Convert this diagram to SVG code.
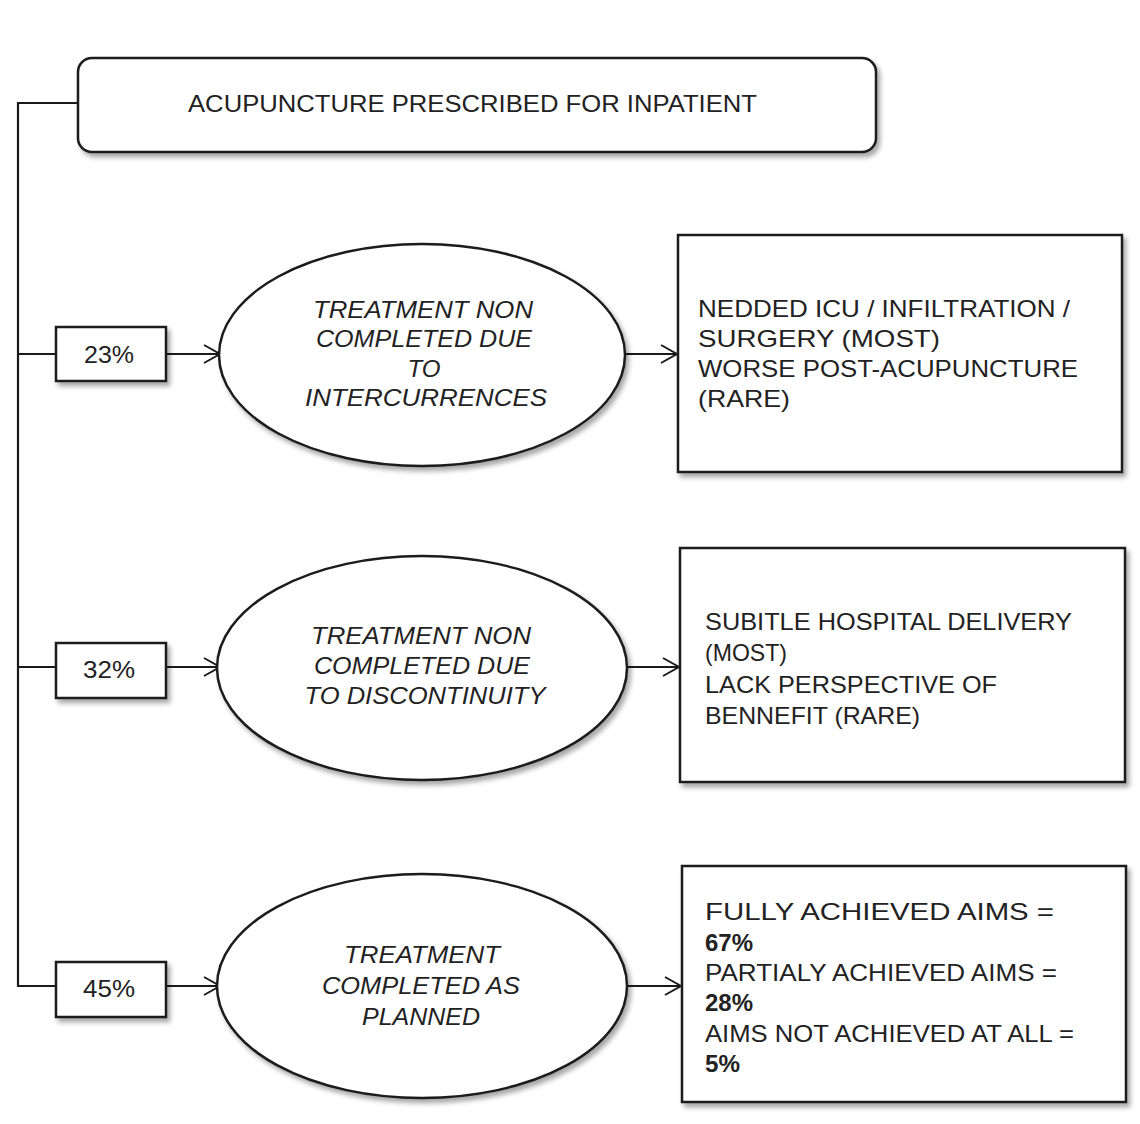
<svg xmlns="http://www.w3.org/2000/svg" width="1140" height="1124" viewBox="0 0 1140 1124">
<defs>
<filter id="sh" x="-10%" y="-10%" width="125%" height="130%">
<feDropShadow dx="3" dy="4" stdDeviation="2.5" flood-color="#000" flood-opacity="0.35"/>
</filter>
<marker id="arr" markerWidth="22" markerHeight="22" refX="18" refY="11" orient="auto" markerUnits="userSpaceOnUse">
<path d="M2,2 L18,11 L2,20" fill="none" stroke="#1a1a1a" stroke-width="2"/>
</marker>
<style>
.shape{fill:#fff;stroke:#1a1a1a;stroke-width:2.5;filter:url(#sh)}
.ln{fill:none;stroke:#1a1a1a;stroke-width:2.2}
.t{font-family:"Liberation Sans",Arial,sans-serif;font-size:24px;fill:#222}
.i{font-style:italic}
.c{text-anchor:middle}
.b{font-weight:bold}
</style>
</defs>
<rect width="1140" height="1124" fill="#fff"/>

<g id="connectors">
<path class="ln" d="M78,103 H18 V986 H56"/>
<path class="ln" d="M18,354 H56"/>
<path class="ln" d="M18,667 H56"/>
<path class="ln" d="M166,354 H220" marker-end="url(#arr)"/>
<path class="ln" d="M166,667 H220" marker-end="url(#arr)"/>
<path class="ln" d="M166,986 H220" marker-end="url(#arr)"/>
<path class="ln" d="M625,354 H677" marker-end="url(#arr)"/>
<path class="ln" d="M628,667 H679" marker-end="url(#arr)"/>
<path class="ln" d="M627,986 H681" marker-end="url(#arr)"/>
</g>

<g id="start">
<rect class="shape" x="78" y="58" width="798" height="94" rx="14"/>
<text class="t" x="188" y="112" textLength="569" lengthAdjust="spacingAndGlyphs">ACUPUNCTURE PRESCRIBED FOR INPATIENT</text>
</g>

<g id="p23">
<rect class="shape" x="56" y="327" width="110" height="54"/>
<text class="t c" x="109" y="363" textLength="50" lengthAdjust="spacingAndGlyphs">23%</text>
</g>
<g id="e1">
<ellipse class="shape" cx="422" cy="355" rx="203" ry="111"/>
<text class="t i c" x="423" y="318" textLength="220" lengthAdjust="spacingAndGlyphs">TREATMENT NON</text>
<text class="t i c" x="424" y="347" textLength="216" lengthAdjust="spacingAndGlyphs">COMPLETED DUE</text>
<text class="t i c" x="424" y="377" textLength="33" lengthAdjust="spacingAndGlyphs">TO</text>
<text class="t i c" x="426" y="406" textLength="242" lengthAdjust="spacingAndGlyphs">INTERCURRENCES</text>
</g>
<g id="r1">
<rect class="shape" x="678" y="235" width="444" height="237"/>
<text class="t" x="698" y="317" textLength="372" lengthAdjust="spacingAndGlyphs">NEDDED ICU / INFILTRATION /</text>
<text class="t" x="698" y="347" textLength="242" lengthAdjust="spacingAndGlyphs">SURGERY (MOST)</text>
<text class="t" x="698" y="377" textLength="380" lengthAdjust="spacingAndGlyphs">WORSE POST-ACUPUNCTURE</text>
<text class="t" x="698" y="407" textLength="92" lengthAdjust="spacingAndGlyphs">(RARE)</text>
</g>

<g id="p32">
<rect class="shape" x="56" y="643" width="110" height="55"/>
<text class="t c" x="109" y="678" textLength="52" lengthAdjust="spacingAndGlyphs">32%</text>
</g>
<g id="e2">
<ellipse class="shape" cx="422" cy="668" rx="205" ry="112"/>
<text class="t i c" x="421" y="644" textLength="220" lengthAdjust="spacingAndGlyphs">TREATMENT NON</text>
<text class="t i c" x="422" y="674" textLength="216" lengthAdjust="spacingAndGlyphs">COMPLETED DUE</text>
<text class="t i c" x="425" y="704" textLength="241" lengthAdjust="spacingAndGlyphs">TO DISCONTINUITY</text>
</g>
<g id="r2">
<rect class="shape" x="680" y="548" width="445" height="234"/>
<text class="t" x="705" y="630" textLength="367" lengthAdjust="spacingAndGlyphs">SUBITLE HOSPITAL DELIVERY</text>
<text class="t" x="705" y="661" textLength="82" lengthAdjust="spacingAndGlyphs">(MOST)</text>
<text class="t" x="705" y="693" textLength="292" lengthAdjust="spacingAndGlyphs">LACK PERSPECTIVE OF</text>
<text class="t" x="705" y="724" textLength="215" lengthAdjust="spacingAndGlyphs">BENNEFIT (RARE)</text>
</g>

<g id="p45">
<rect class="shape" x="56" y="962" width="110" height="55"/>
<text class="t c" x="109" y="997" textLength="52" lengthAdjust="spacingAndGlyphs">45%</text>
</g>
<g id="e3">
<ellipse class="shape" cx="422" cy="986" rx="205" ry="112"/>
<text class="t i c" x="422" y="963" textLength="156" lengthAdjust="spacingAndGlyphs">TREATMENT</text>
<text class="t i c" x="421" y="994" textLength="198" lengthAdjust="spacingAndGlyphs">COMPLETED AS</text>
<text class="t i c" x="421" y="1025" textLength="118" lengthAdjust="spacingAndGlyphs">PLANNED</text>
</g>
<g id="r3">
<rect class="shape" x="682" y="866" width="444" height="236"/>
<text class="t" x="705" y="920" textLength="349" lengthAdjust="spacingAndGlyphs">FULLY ACHIEVED AIMS =</text>
<text class="t b" x="705" y="951" textLength="48" lengthAdjust="spacingAndGlyphs">67%</text>
<text class="t" x="705" y="981" textLength="352" lengthAdjust="spacingAndGlyphs">PARTIALY ACHIEVED AIMS =</text>
<text class="t b" x="705" y="1011" textLength="48" lengthAdjust="spacingAndGlyphs">28%</text>
<text class="t" x="705" y="1042" textLength="369" lengthAdjust="spacingAndGlyphs">AIMS NOT ACHIEVED AT ALL =</text>
<text class="t b" x="705" y="1072" textLength="35" lengthAdjust="spacingAndGlyphs">5%</text>
</g>
</svg>
